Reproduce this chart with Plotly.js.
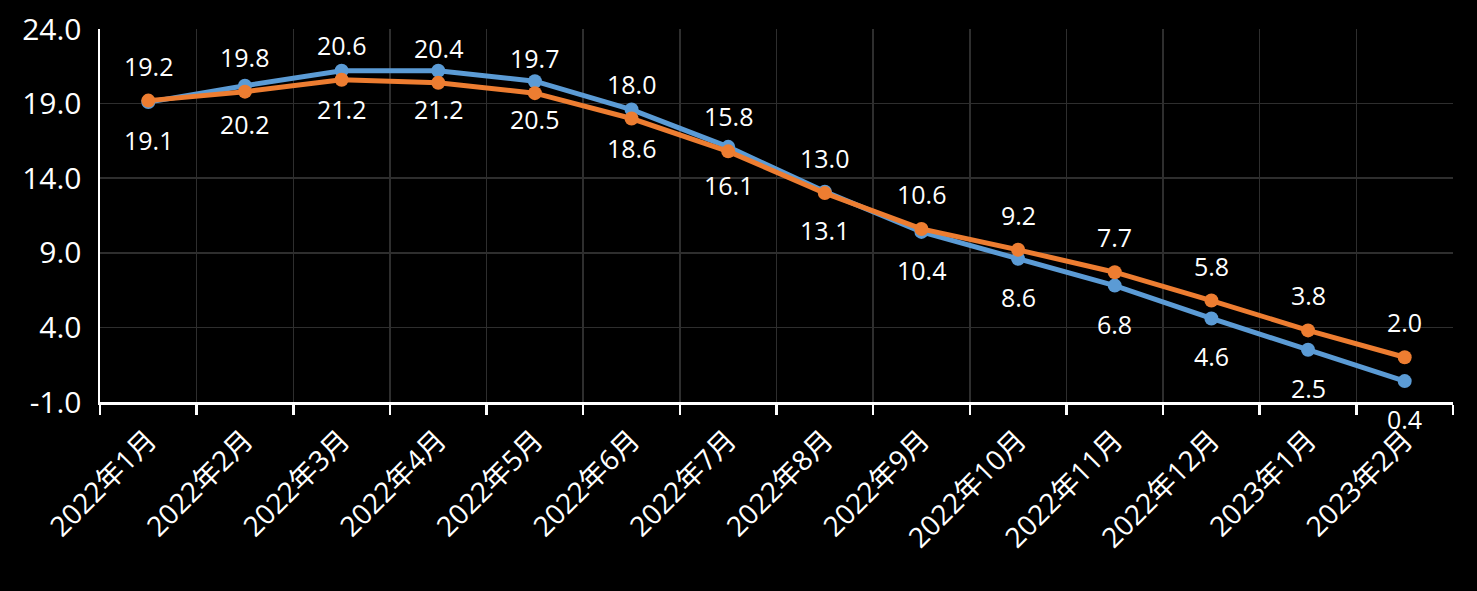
<!DOCTYPE html>
<html>
<head>
<meta charset="utf-8">
<script src="https://cdn.plot.ly/plotly-3.0.1.min.js"></script>
<style>
html,body{margin:0;padding:0;background:#000;}
#chart{width:1477px;height:591px;}
</style>
</head>
<body>
<div id="chart"></div>
<script>
const categories = ["2022年1月","2022年2月","2022年3月","2022年4月","2022年5月","2022年6月","2022年7月","2022年8月","2022年9月","2022年10月","2022年11月","2022年12月","2023年1月","2023年2月"];
const blueValues = [19.1, 20.2, 21.2, 21.2, 20.5, 18.6, 16.1, 13.1, 10.4, 8.6, 6.8, 4.6, 2.5, 0.4];
const orangeValues = [19.2, 19.8, 20.6, 20.4, 19.7, 18.0, 15.8, 13.0, 10.6, 9.2, 7.7, 5.8, 3.8, 2.0];
const yTicks = [-1, 4, 9, 14, 19, 24];

const BLUE = "#5B9BD5", ORANGE = "#ED7D31";
const FONT = "Open Sans, Noto Sans CJK SC, sans-serif";

const traces = [
  {x: categories, y: blueValues, type: "scatter", mode: "lines+markers",
   line: {color: BLUE, width: 5}, marker: {color: BLUE, size: 14}, hoverinfo: "skip"},
  {x: categories, y: orangeValues, type: "scatter", mode: "lines+markers",
   line: {color: ORANGE, width: 5}, marker: {color: ORANGE, size: 14}, hoverinfo: "skip"}
];

const annotations = [];
categories.forEach((c, i) => {
  annotations.push({x: c, y: orangeValues[i], text: orangeValues[i].toFixed(1), showarrow: false,
    yshift: 35, font: {color: "#fff", size: 25, family: FONT}});
  annotations.push({x: c, y: blueValues[i], text: blueValues[i].toFixed(1), showarrow: false,
    yshift: -38, font: {color: "#fff", size: 25, family: FONT}});
});

const layout = {
  width: 1477, height: 591,
  paper_bgcolor: "#000", plot_bgcolor: "#000",
  margin: {l: 100, r: 24, t: 29, b: 189},
  showlegend: false,
  font: {family: FONT, color: "#fff"},
  xaxis: {
    type: "category", range: [-0.5, 13.5],
    tickson: "boundaries", showgrid: true, gridcolor: "#2e2e2e", gridwidth: 1.5,
    showline: true, linecolor: "#fff", linewidth: 2.5,
    ticks: "outside", ticklen: 10, tickcolor: "#fff", tickwidth: 2.5,
    tickangle: -45, tickfont: {size: 28, color: "#fff", family: FONT},
    ticklabelstandoff: 8, zeroline: false, fixedrange: true
  },
  yaxis: {
    range: [-1, 24], tickvals: yTicks, ticktext: yTicks.map(v => v.toFixed(1)),
    showgrid: true, gridcolor: "#2e2e2e", gridwidth: 1.5,
    showline: true, linecolor: "#fff", linewidth: 2.5,
    ticks: "", tickfont: {size: 30, color: "#fff", family: FONT},
    ticklabelstandoff: 10, zeroline: false, fixedrange: true
  },
  annotations: annotations
};

Plotly.newPlot("chart", traces, layout, {staticPlot: true});
</script>
</body>
</html>
